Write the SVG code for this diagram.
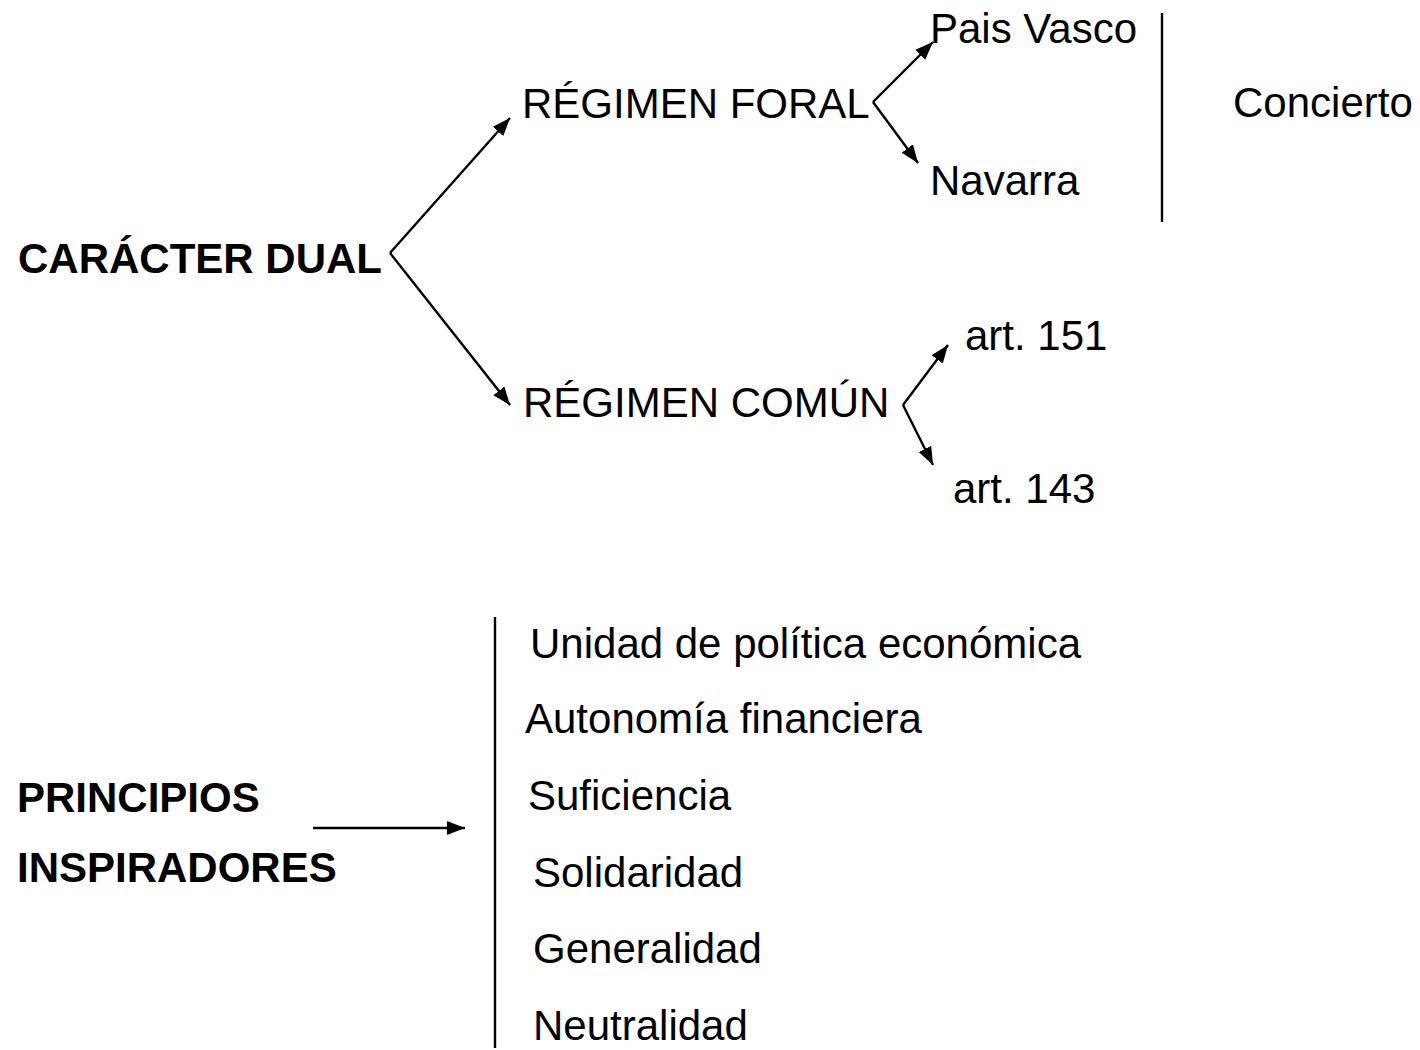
<svg xmlns="http://www.w3.org/2000/svg" width="1420" height="1050" viewBox="0 0 1420 1050">
<style>
text{font-family:"Liberation Sans",Arial,sans-serif;font-size:42px;fill:#000}
.b{font-weight:bold}
.ln{stroke:#000;stroke-width:2.4;fill:none}
</style>
<defs>
<marker id="ah" markerUnits="userSpaceOnUse" markerWidth="20" markerHeight="16" refX="18" refY="8" orient="auto">
<path d="M0,1 L18,8 L0,15 Z" fill="#000"/>
</marker>
</defs>
<rect width="1420" height="1050" fill="#fff"/>
<g id="connectors">
<line class="ln" x1="390" y1="253" x2="510" y2="118" marker-end="url(#ah)"/>
<line class="ln" x1="390" y1="253" x2="510" y2="405" marker-end="url(#ah)"/>
<line class="ln" x1="873" y1="102" x2="933" y2="42" marker-end="url(#ah)"/>
<line class="ln" x1="873" y1="102" x2="918" y2="163" marker-end="url(#ah)"/>
<line class="ln" x1="903" y1="405" x2="948" y2="345" marker-end="url(#ah)"/>
<line class="ln" x1="903" y1="405" x2="933" y2="465" marker-end="url(#ah)"/>
<line class="ln" x1="313" y1="828" x2="465" y2="828" marker-end="url(#ah)"/>
<line class="ln" x1="1162" y1="13" x2="1162" y2="222"/>
<line class="ln" x1="495" y1="617" x2="495" y2="1048"/>
</g>
<g id="caracter-dual"><text class="b" x="18" y="273" textLength="364" lengthAdjust="spacingAndGlyphs">CARÁCTER DUAL</text></g>
<g id="regimen-foral"><text x="522" y="118">RÉGIMEN FORAL</text></g>
<g id="regimen-comun"><text x="523" y="417">RÉGIMEN COMÚN</text></g>
<g id="pais-vasco"><text x="930" y="43">Pais Vasco</text></g>
<g id="navarra"><text x="930" y="195">Navarra</text></g>
<g id="concierto"><text x="1233" y="117">Concierto</text></g>
<g id="art151"><text x="965" y="350">art. 151</text></g>
<g id="art143"><text x="953" y="503">art. 143</text></g>
<g id="principios"><text class="b" x="17" y="812">PRINCIPIOS</text><text class="b" x="17" y="882">INSPIRADORES</text></g>
<g id="lista">
<text x="530" y="658">Unidad de política económica</text>
<text x="525" y="733">Autonomía financiera</text>
<text x="528" y="810">Suficiencia</text>
<text x="533" y="887">Solidaridad</text>
<text x="533" y="963">Generalidad</text>
<text x="533" y="1040">Neutralidad</text>
</g>
</svg>
